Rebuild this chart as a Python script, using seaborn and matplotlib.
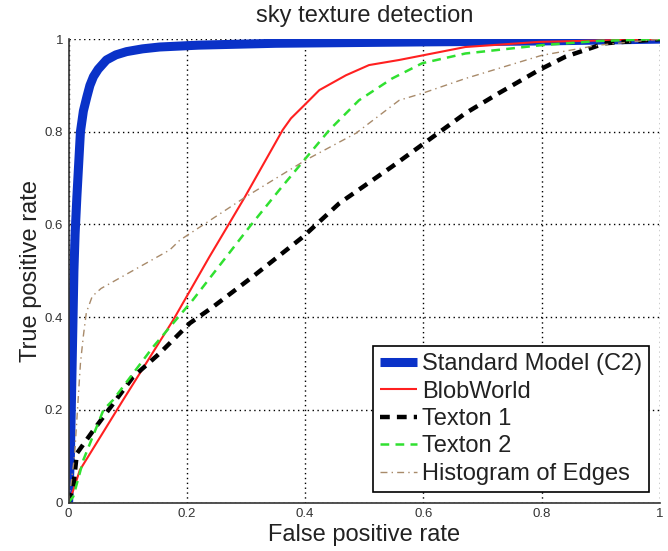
import matplotlib
matplotlib.use("Agg")
import matplotlib.pyplot as plt
import seaborn as sns
import pandas as pd

sns.set_style("white")
plt.rcParams['font.family'] = ['Liberation Sans', 'DejaVu Sans']

# ---- data ----
std_fpr = [0.0, 0.003, 0.006, 0.009, 0.011, 0.014, 0.017, 0.020, 0.025, 0.031, 0.036, 0.042, 0.050, 0.064,
           0.080, 0.098, 0.125, 0.154, 0.22, 0.35, 0.6, 0.8, 1.0]
std_tpr = [0.0, 0.1, 0.3, 0.5, 0.58, 0.66, 0.73, 0.80, 0.845, 0.876, 0.90, 0.919, 0.935, 0.955,
           0.966, 0.973, 0.979, 0.983, 0.987, 0.991, 0.994, 0.996, 1.0]

blob_fpr = [0.0, 0.008, 0.019, 0.092, 0.177, 0.238, 0.272, 0.297, 0.362, 0.376, 0.399, 0.424, 0.469, 0.508, 0.559, 0.671, 0.795, 1.0]
blob_tpr = [0.0, 0.027, 0.07, 0.221, 0.394, 0.53, 0.603, 0.657, 0.804, 0.829, 0.858, 0.89, 0.922, 0.944, 0.955, 0.983, 0.994, 1.0]

tex1_fpr = [0.0, 0.008, 0.014, 0.042, 0.109, 0.154, 0.205, 0.244, 0.311, 0.396, 0.458, 0.547, 0.671, 0.727, 0.795, 0.84, 0.907, 1.0]
tex1_tpr = [0.0, 0.034, 0.106, 0.156, 0.271, 0.322, 0.387, 0.422, 0.487, 0.573, 0.646, 0.725, 0.84, 0.883, 0.933, 0.962, 0.991, 1.0]

tex2_fpr = [0.0, 0.008, 0.025, 0.059, 0.075, 0.143, 0.21, 0.306, 0.356, 0.401, 0.441, 0.491, 0.547, 0.598, 0.671, 0.80, 0.896, 1.0]
tex2_tpr = [0.0, 0.013, 0.092, 0.2, 0.221, 0.336, 0.437, 0.595, 0.674, 0.743, 0.804, 0.868, 0.915, 0.948, 0.969, 0.987, 0.996, 1.0]

hist_fpr = [0.0, 0.010, 0.016, 0.020, 0.025, 0.030, 0.040, 0.055, 0.171, 0.188, 0.30, 0.401, 0.486, 0.559, 0.598, 0.671, 0.80, 0.896, 1.0]
hist_tpr = [0.0, 0.10, 0.22, 0.30, 0.36, 0.41, 0.445, 0.462, 0.545, 0.566, 0.66, 0.739, 0.797, 0.868, 0.883, 0.915, 0.965, 0.987, 1.0]

series_names = ["Standard Model (C2)", "BlobWorld", "Texton 1", "Texton 2", "Histogram of Edges"]
tick_vals = [0, 0.2, 0.4, 0.6, 0.8, 1]
tick_labels = ["0", "0.2", "0.4", "0.6", "0.8", "1"]

data = [(std_fpr, std_tpr), (blob_fpr, blob_tpr), (tex1_fpr, tex1_tpr),
        (tex2_fpr, tex2_tpr), (hist_fpr, hist_tpr)]
styles = [
    dict(color="#0a32c8", linewidth=6.5, linestyle="-"),
    dict(color="#ff2020", linewidth=1.5, linestyle="-"),
    dict(color="black", linewidth=3.2, linestyle=(0, (2.2, 1.6))),
    dict(color="#30e030", linewidth=1.8, linestyle=(0, (3.5, 2.5))),
    dict(color="#a88a6a", linewidth=1.0, linestyle=(0, (5, 3, 1, 3))),
]

fig = plt.figure(figsize=(6.68, 5.51), dpi=100)
ax = fig.add_axes([0.1027, 0.088, 0.8853, 0.841])

for name, (xs, ys), st in zip(series_names, data, styles):
    df = pd.DataFrame({"fpr": xs, "tpr": ys})
    sns.lineplot(data=df, x="fpr", y="tpr", sort=False, estimator=None,
                 ax=ax, label=name, solid_capstyle="butt", solid_joinstyle="round",
                 dash_capstyle="butt", **st)

ax.set_xlim(0, 1)
ax.set_ylim(0, 1)
ax.set_xticks(tick_vals)
ax.set_xticklabels(tick_labels)
ax.set_yticks(tick_vals)
ax.set_yticklabels(tick_labels)
ax.tick_params(direction="in", length=5, width=1, labelsize=9.5, colors="#333333", pad=4)
ax.grid(True, color="black", linestyle=(0, (1, 2.5)), linewidth=1.0)
for s in ["top", "right"]:
    ax.spines[s].set_visible(False)
for s in ["left", "bottom"]:
    ax.spines[s].set_color("#333333")
    ax.spines[s].set_linewidth(1.2)

ax.set_title("sky texture detection", fontsize=17, pad=12, color="#222222")
ax.set_xlabel("False positive rate", fontsize=17, labelpad=3, color="#222222")
ax.set_ylabel("True positive rate", fontsize=17, labelpad=2, color="#222222")

leg = ax.legend(loc="lower right", fontsize=17, frameon=True, fancybox=False,
                edgecolor="black", handlelength=1.6, handletextpad=0.2,
                labelspacing=0.23, borderpad=0.3, borderaxespad=0.45)
leg.get_frame().set_linewidth(1.2)
leg.get_frame().set_alpha(1)
for t in leg.get_texts():
    t.set_color("#222222")

fig.savefig("out.png", dpi=100)
